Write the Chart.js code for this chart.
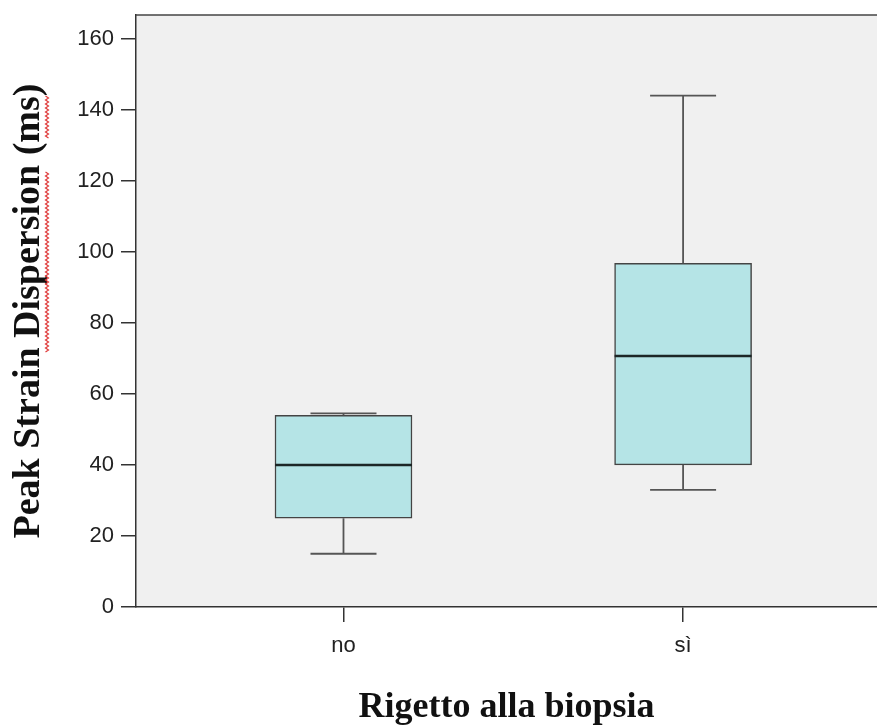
<!DOCTYPE html>
<html>
<head>
<meta charset="utf-8">
<script src="https://cdn.jsdelivr.net/npm/chart.js@4"></script>
<style>
  body { margin: 0; background: #fff; }
  #wrap { width: 877px; height: 728px; position: relative; }
</style>
</head>
<body>
<div id="wrap"><canvas id="myChart"></canvas></div>
<script>
// box plot values
var categories = ["no", "sì"];
var whiskerLow = [15, 33];
var q1 = [25, 40];
var median = [40, 70.7];
var q3 = [54, 96.8];
var whiskerHigh = [54.5, 144];
var yTicks = [0, 20, 40, 60, 80, 100, 120, 140, 160];

document.addEventListener("DOMContentLoaded", function() {
  var ctx = document.getElementById("myChart").getContext("2d");

  // grey plot background + top frame line
  var plotFrame = {
    id: "plotFrame",
    beforeDraw: function(chart) {
      var a = chart.chartArea, c = chart.ctx;
      c.save();
      c.fillStyle = "#f0f0f0";
      c.fillRect(a.left, a.top, a.right - a.left, a.bottom - a.top);
      c.restore();
    },
    afterDraw: function(chart) {
      var a = chart.chartArea, c = chart.ctx;
      c.save();
      c.strokeStyle = "#444";
      c.lineWidth = 1.5;
      c.beginPath();
      c.moveTo(a.left, a.top);
      c.lineTo(a.right, a.top);
      c.stroke();
      // spell-check squiggle beside the y title
      c.strokeStyle = "#e03a3a";
      c.lineWidth = 1.2;
      [[96, 138], [172, 352]].forEach(function(s) {
        c.beginPath();
        for (var y = s[0]; y <= s[1]; y += 2) {
          var x = 47 + ((y / 2) % 2 ? 1.5 : -1.5);
          if (y === s[0]) c.moveTo(x, y); else c.lineTo(x, y);
        }
        c.stroke();
      });
      c.restore();
    }
  };

  // whiskers and median lines
  var whiskers = {
    id: "whiskers",
    afterDatasetsDraw: function(chart) {
      var xs = chart.scales.x, ys = chart.scales.y, c = chart.ctx;
      c.save();
      categories.forEach(function(cat, i) {
        var x = xs.getPixelForValue(i + 1);
        var cap = 33, half = 68.5;
        c.strokeStyle = "#555";
        c.lineWidth = 1.8;
        c.beginPath();
        c.moveTo(x, ys.getPixelForValue(q3[i]));
        c.lineTo(x, ys.getPixelForValue(whiskerHigh[i]));
        c.moveTo(x - cap, ys.getPixelForValue(whiskerHigh[i]));
        c.lineTo(x + cap, ys.getPixelForValue(whiskerHigh[i]));
        c.moveTo(x, ys.getPixelForValue(q1[i]));
        c.lineTo(x, ys.getPixelForValue(whiskerLow[i]));
        c.moveTo(x - cap, ys.getPixelForValue(whiskerLow[i]));
        c.lineTo(x + cap, ys.getPixelForValue(whiskerLow[i]));
        c.stroke();
        c.strokeStyle = "#1c2626";
        c.lineWidth = 2.5;
        c.beginPath();
        c.moveTo(x - half, ys.getPixelForValue(median[i]));
        c.lineTo(x + half, ys.getPixelForValue(median[i]));
        c.stroke();
      });
      c.restore();
    }
  };

  var myChart = new Chart(ctx, {
    type: "bar",
    data: {
      datasets: [
        {
          data: categories.map(function(c, i) { return { x: i + 1, y: [q1[i], q3[i]] }; }),
          backgroundColor: "#b5e4e6",
          borderColor: "#444",
          borderWidth: 1.5,
          borderSkipped: false,
          barThickness: 137
        }
      ]
    },
    options: {
      responsive: true,
      maintainAspectRatio: false,
      animation: false,
      layout: { padding: { top: 15, right: 0, left: 0, bottom: 0 } },
      plugins: {
        legend: { display: false },
        tooltip: { enabled: false }
      },
      scales: {
        x: {
          type: "linear",
          offset: false,
          min: 0.389,
          max: 2.571,
          afterBuildTicks: function(s) { s.ticks = categories.map(function(c, i) { return { value: i + 1 }; }); },
          afterFit: function(s) { s.height = 121; s.paddingLeft = 0; s.paddingRight = 0; },
          ticks: {
            color: "#222",
            font: { family: "Liberation Sans, Arial", size: 22 },
            padding: 11,
            callback: function(v) { return categories[v - 1]; }
          },
          grid: { offset: false, drawOnChartArea: false, tickLength: 15, color: "#333", lineWidth: 1.5 },
          border: { color: "#333", width: 1.5 },
          title: {
            display: true,
            text: "Rigetto alla biopsia",
            color: "#111",
            font: { family: "Liberation Serif, Times New Roman", size: 36, weight: "bold", lineHeight: 1 },
            padding: { top: 0, bottom: 2 }
          }
        },
        y: {
          min: 0,
          max: 166.7,
          afterBuildTicks: function(s) { s.ticks = yTicks.map(function(v) { return { value: v }; }); },
          afterFit: function(s) { s.width = 136; s.paddingTop = 0; s.paddingBottom = 0; },
          ticks: {
            color: "#222",
            font: { family: "Liberation Sans, Arial", size: 22 },
            padding: 7
          },
          grid: { drawOnChartArea: false, tickLength: 15, color: "#333", lineWidth: 1.5 },
          border: { color: "#333", width: 1.5 },
          title: {
            display: true,
            text: "Peak Strain Dispersion (ms)",
            color: "#111",
            font: { family: "Liberation Serif, Times New Roman", size: 38, weight: "bold", lineHeight: 1 },
            padding: { top: 10, bottom: 0 }
          }
        }
      }
    },
    plugins: [plotFrame, whiskers]
  });
});
</script>
</body>
</html>
